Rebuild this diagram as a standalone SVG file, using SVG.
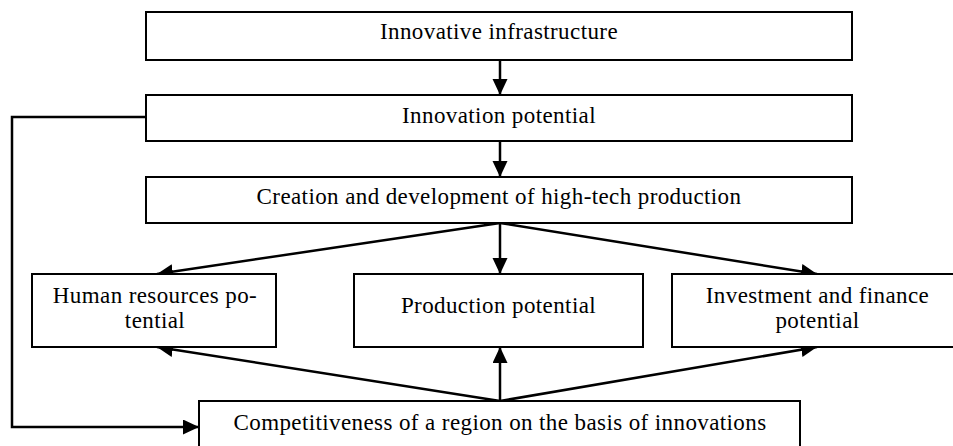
<svg xmlns="http://www.w3.org/2000/svg" width="953" height="446" viewBox="0 0 953 446">
  <style>
    .box { fill: #ffffff; stroke: #000000; stroke-width: 2; }
    .lbl { font-family: "Liberation Serif", "Times New Roman", serif; font-size: 23px; letter-spacing: 0.4px; fill: #000000; text-anchor: middle; }
    .con { fill: none; stroke: #000000; stroke-width: 2.5; }
  </style>
  <defs>
    <marker id="arrow" markerUnits="userSpaceOnUse" markerWidth="18" markerHeight="16" refX="16" refY="7.5" orient="auto">
      <path d="M0,0 L16,7.5 L0,15 Z" fill="#000000"/>
    </marker>
  </defs>

  <g id="connectors">
    <line class="con" x1="500" y1="60" x2="500" y2="95" marker-end="url(#arrow)"/>
    <line class="con" x1="500" y1="141" x2="500" y2="177" marker-end="url(#arrow)"/>
    <line class="con" x1="500" y1="223" x2="157" y2="274" marker-end="url(#arrow)"/>
    <line class="con" x1="500" y1="223" x2="500" y2="274" marker-end="url(#arrow)"/>
    <line class="con" x1="500" y1="223" x2="817" y2="274" marker-end="url(#arrow)"/>
    <line class="con" x1="500" y1="401" x2="157" y2="347" marker-end="url(#arrow)"/>
    <line class="con" x1="500" y1="401" x2="500" y2="347" marker-end="url(#arrow)"/>
    <line class="con" x1="500" y1="401" x2="817" y2="347" marker-end="url(#arrow)"/>
    <polyline class="con" points="146,117 12,117 12,427 199,427" marker-end="url(#arrow)"/>
  </g>

  <g id="innovative-infrastructure">
    <rect class="box" x="146" y="12" width="706" height="48"/>
    <text class="lbl" x="499" y="39">Innovative infrastructure</text>
  </g>

  <g id="innovation-potential">
    <rect class="box" x="146" y="95" width="706" height="46"/>
    <text class="lbl" x="499" y="123">Innovation potential</text>
  </g>

  <g id="high-tech-production">
    <rect class="box" x="146" y="177" width="706" height="46"/>
    <text class="lbl" x="499" y="204">Creation and development of high-tech production</text>
  </g>

  <g id="human-resources">
    <rect class="box" x="32" y="274" width="244" height="73"/>
    <text class="lbl" x="155" y="303">Human resources po-</text>
    <text class="lbl" x="155" y="328">tential</text>
  </g>

  <g id="production-potential">
    <rect class="box" x="354" y="274" width="289" height="73"/>
    <text class="lbl" x="498.5" y="313">Production potential</text>
  </g>

  <g id="investment-finance">
    <rect class="box" x="672" y="274" width="291" height="73"/>
    <text class="lbl" x="817.5" y="303">Investment and finance</text>
    <text class="lbl" x="817.5" y="328">potential</text>
  </g>

  <g id="competitiveness">
    <rect class="box" x="199" y="401" width="601" height="60"/>
    <text class="lbl" x="500" y="430">Competitiveness of a region on the basis of innovations</text>
  </g>
</svg>
